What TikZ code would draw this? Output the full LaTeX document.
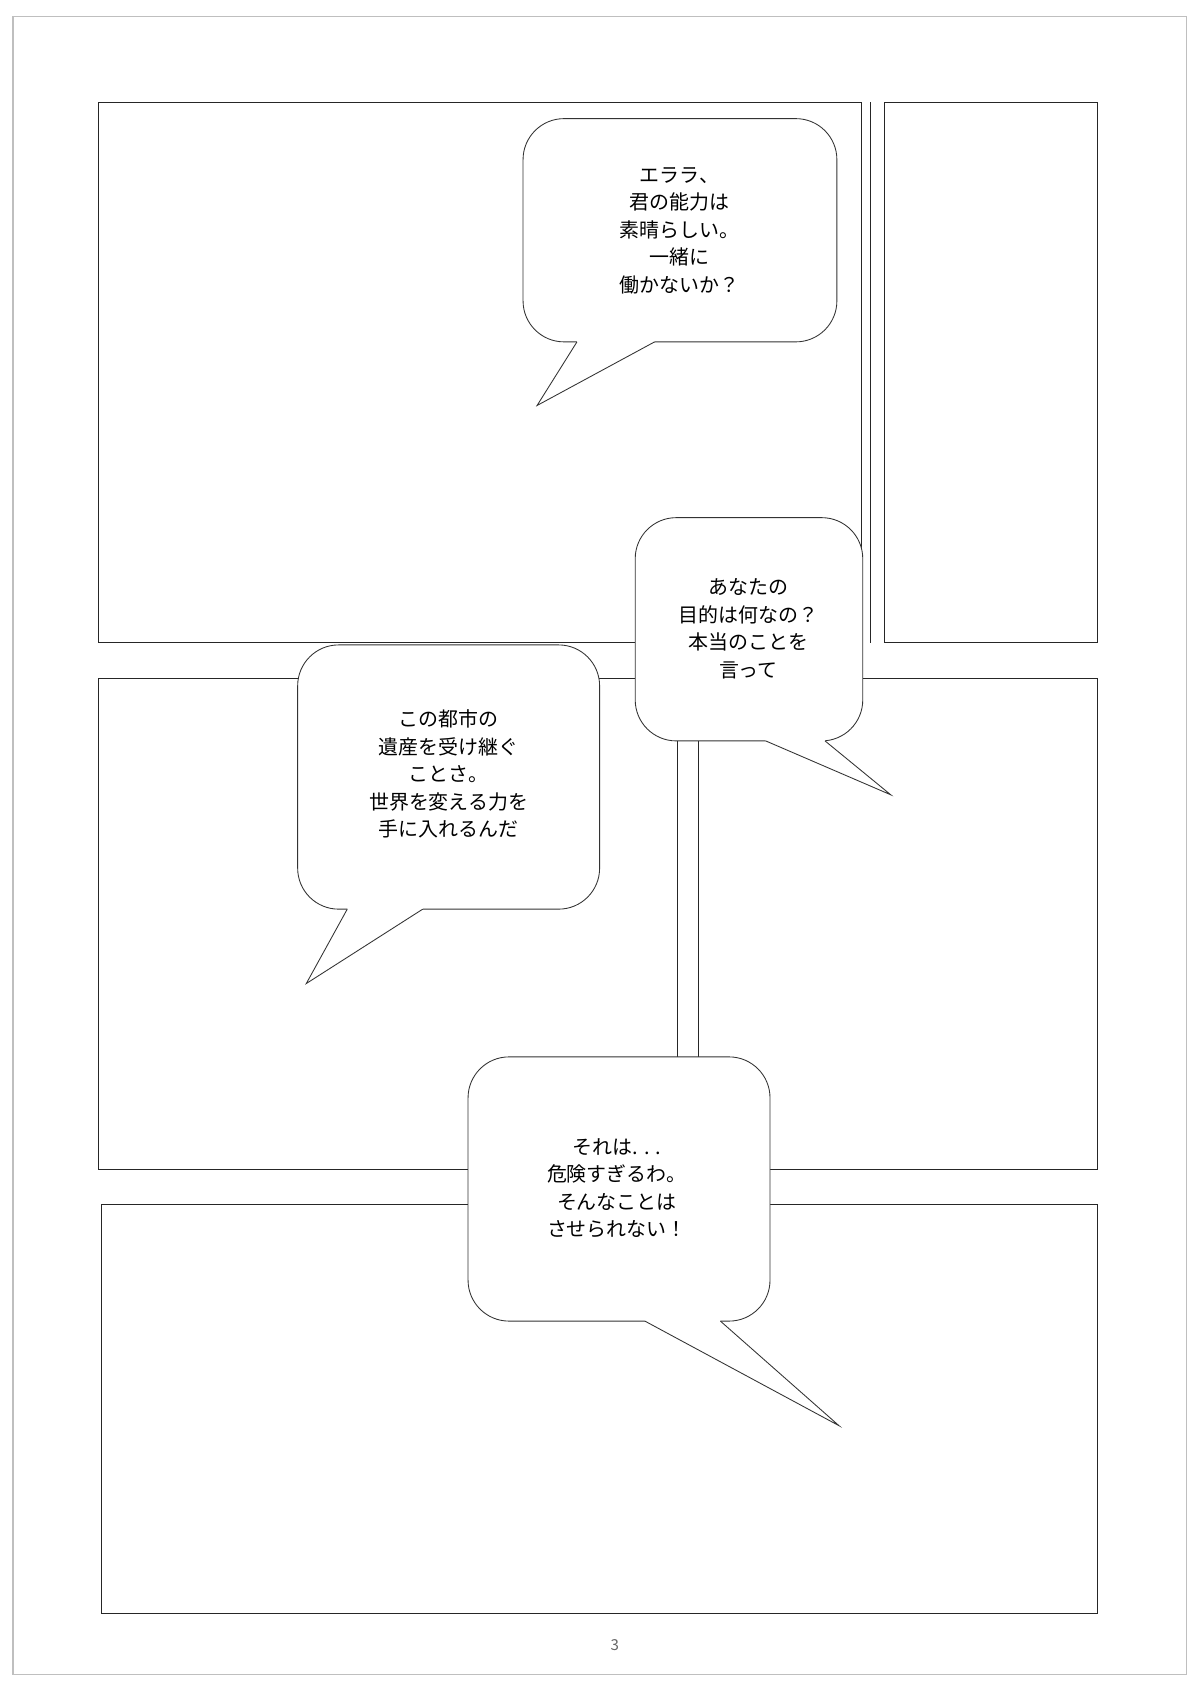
\documentclass[tikz,border=0pt]{standalone}
\usepackage{fontspec}
\setmainfont{Noto Sans CJK JP}
\begin{document}
\begin{tikzpicture}[x=1pt,y=-1pt,line width=0.8pt,
  panel/.style={draw=black!85},
  bub/.style={draw=black!80,fill=white,rounded corners=38pt},
  btext/.style={align=center,font=\fontsize{18.5}{25.5}\selectfont}]
\useasboundingbox (0,0) rectangle (1113,1568);
\fill[white] (0,0) rectangle (1113,1568);
\draw[black!25,line width=1.2pt] (12,15) rectangle (1100,1553);
% panels
\draw[panel] (91,95) rectangle (799,596);
\draw[panel] (807,95) -- (807,596);
\draw[panel] (820,95) rectangle (1018,596);
\draw[panel] (91,629) rectangle (628,1084);
\draw[panel] (648,629) rectangle (1018,1084);
\draw[panel] (628,629) -- (648,629);
\draw[panel] (94,1117) rectangle (1018,1496);
% bubble macro
\newcommand{\mybubble}[8]{%
  \draw[bub] (#1,#2) rectangle (#3,#4);
  \fill[white] (#5,#4-2) -- (#5,#4) -- (#6,#7) -- (#8,#4) -- (#8,#4-2) -- cycle;
  \draw[black!80] (#5,#4) -- (#6,#7) -- (#8,#4);}
\mybubble{485}{110}{776}{317}{535}{498}{376}{607}
\node[btext] (t1) at (630,214) {エララ、\\君の能力は\\素晴らしい。\\一緒に\\働かないか？};
\mybubble{589}{480}{800}{687}{710}{826}{737}{765}
\node[btext] (t2) at (694,583) {あなたの\\目的は何なの？\\本当のことを\\言って};
\mybubble{276}{598}{556}{843}{322}{284}{912}{392}
\node[btext] (t3) at (416,718) {この都市の\\遺産を受け継ぐ\\ことさ。\\世界を変える力を\\手に入れるんだ};
\mybubble{434}{980}{714}{1225}{598}{778}{1322}{668}
\node[btext] (t4) at (572,1102) {それは. . .\\危険すぎるわ。\\そんなことは\\させられない！};
\node[font=\fontsize{14}{16}\selectfont,text=black!60] (pg) at (570,1525) {3};
\end{tikzpicture}
\end{document}
